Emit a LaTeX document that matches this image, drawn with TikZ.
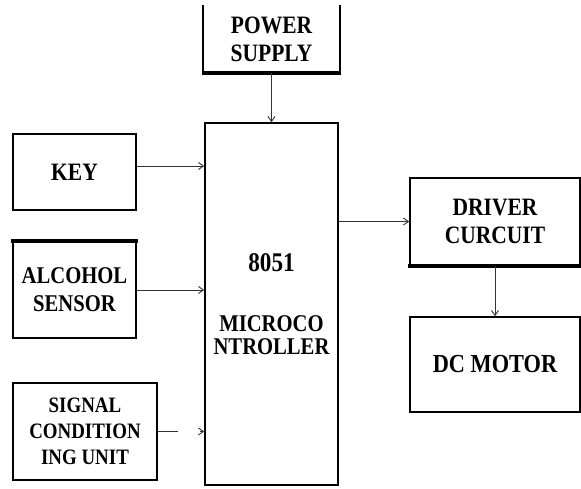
\documentclass[tikz,border=0pt]{standalone}
\usepackage{fontspec}
\setmainfont{Liberation Serif}[FakeStretch=0.86]
\usetikzlibrary{arrows.meta}
\begin{document}
\begin{tikzpicture}[x=1pt,y=-1pt,
  blk/.style={draw, line width=1.6pt, inner sep=0pt, align=center,
    font=\fontsize{25}{28}\selectfont\bfseries},
  thickedge/.style={line width=4pt},
  conn/.style={line width=0.9pt, draw=black!80,
    -{Straight Barb[length=5pt,width=7pt]}}]
\useasboundingbox[fill=white] (0,0) rectangle (581,488);

% power supply (top edge cut off)
\node[blk, draw=none, minimum width=135pt, minimum height=66pt] (ps) at (271.5,39) {POWER\\SUPPLY};
\draw[line width=1.6pt] (ps.north west) -- (ps.south west) -- (ps.south east) -- (ps.north east);
\draw[thickedge] ([xshift=-0.8pt]ps.south west) -- ([xshift=0.8pt]ps.south east);

% microcontroller
\node[blk, minimum width=133pt, minimum height=362pt,
  font=\fontsize{24}{23}\selectfont\bfseries] (mc) at (271.5,304) {{\fontsize{27}{23}\selectfont 8051}\\[37pt]MICROCO\\NTROLLER};

% inputs
\node[blk, minimum width=123pt, minimum height=76pt] (key) at (74.5,172) {KEY};
\node[blk, line width=2.2pt, minimum width=123pt, minimum height=96pt,
  font=\fontsize{24}{28}\selectfont\bfseries] (alc) at (74.5,290) {ALCOHOL\\SENSOR};
\draw[thickedge] ([xshift=-1pt]alc.north west) -- ([xshift=1pt]alc.north east);
\node[blk, line width=2.6pt, minimum width=144pt, minimum height=97pt,
  font=\fontsize{22}{26}\selectfont\bfseries] (sig) at (85,431.5) {SIGNAL\\CONDITION\\ING UNIT};

% outputs
\node[blk, minimum width=170pt, minimum height=87pt] (drv) at (495,221.5) {DRIVER\\CURCUIT};
\draw[thickedge] ([xshift=-0.8pt]drv.south west) -- ([xshift=0.8pt]drv.south east);
\node[blk, minimum width=170pt, minimum height=95pt, font=\fontsize{26}{28}\selectfont\bfseries] (dc) at (495,364.5) {DC MOTOR};

% connectors
\draw[conn] (ps.south) -- (mc.north);
\draw[conn] ([yshift=6pt]key.east) -- ([yshift=6pt]key.east -| mc.west);
\draw[conn] (alc.east) -- (alc.east -| mc.west);
\draw[conn, dash pattern=on 20pt off 22pt] (sig.east) -- (sig.east -| mc.west);
\draw[conn] (drv.west -| mc.east) -- (drv.west);
\draw[conn] (drv.south) -- (dc.north);
\end{tikzpicture}
\end{document}
